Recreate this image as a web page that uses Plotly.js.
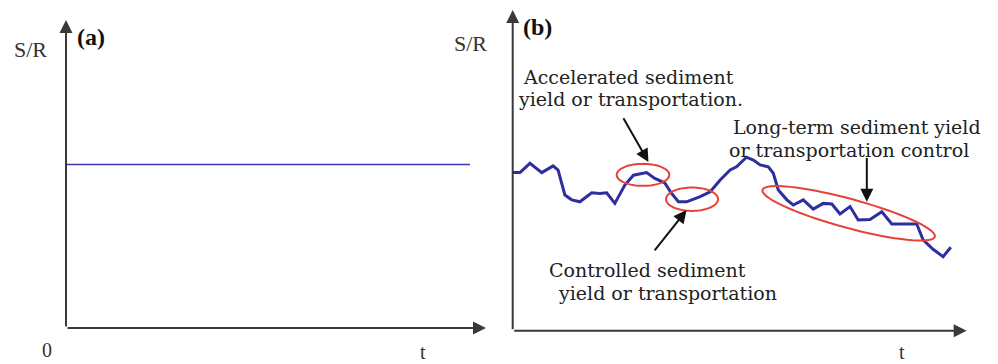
<!DOCTYPE html>
<html>
<head>
<meta charset="utf-8">
<script src="https://cdn.plot.ly/plotly-3.0.1.min.js"></script>
<style>html,body{margin:0;padding:0;background:#fff;}#chart{width:998px;height:364px;}</style>
</head>
<body>
<div id="chart"></div>
<script>
// ---- Data ----
// Panel (a): constant S/R over time
const tA = [0, 96.2];
const srA = [53.1, 53.1];

// Panel (b): fluctuating S/R over time
const tB = [0, 1.6, 3.8, 6.4, 8.9, 10.0, 11.5, 13.0, 14.8, 17.4, 19.2, 20.7, 22.5, 24.7, 26.6, 29.5,
  31.3, 33.5, 35.0, 36.5, 38.3, 41.3, 43.5, 45.7, 47.9, 49.3, 51.5, 53.0, 54.5, 56.3, 57.4, 58.5,
  60.4, 61.8, 64.0, 66.2, 68.4, 70.3, 72.1, 74.3, 76.1, 78.7, 81.3, 83.5, 86.4, 89.0, 90.4, 92.6, 94.8, 96.5];
const srB = [49.3, 49.3, 52.2, 49.3, 51.4, 50.1, 42.3, 40.8, 40.2, 43.0, 42.8, 43.0, 39.7, 45.4, 48.5, 49.3,
  47.5, 46.1, 42.8, 40.2, 40.2, 41.8, 43.3, 47.0, 50.1, 51.1, 54.1, 53.2, 51.7, 51.1, 49.1, 43.9,
  40.8, 39.2, 40.8, 37.9, 39.7, 39.5, 36.4, 38.7, 34.5, 34.7, 37.1, 33.3, 33.3, 33.3, 28.3, 25.4, 23.1, 26.0];

const axisLabelY = "S/R";
const axisLabelX = "t";
const originLabel = "0";
const panelLabels = ["(a)", "(b)"];
const noteAccel = ["Accelerated sediment", "yield or transportation."];
const noteLong = ["Long-term sediment yield", "or transportation control"];
const noteCtrl = ["Controlled sediment", "yield or transportation"];

// ---- Layout geometry ----
const W = 998, H = 364;
const domA = {x: [66 / W, 486 / W], y: [(H - 328) / H, (H - 20) / H]};
const domB = {x: [512.7 / W, 966.7 / W], y: [(H - 330.7) / H, (H - 10) / H]};
const sxB = (domB.x[1] - domB.x[0]) * W / 100; // px per unit
const syB = (domB.y[1] - domB.y[0]) * H / 100;

function ellipse(cx, cy, rxPx, ryPx, angDeg) {
  const a = angDeg * Math.PI / 180;
  let p = '';
  for (let k = 0; k <= 72; k++) {
    const t = k / 72 * 2 * Math.PI;
    const dx = rxPx * Math.cos(t) * Math.cos(a) - ryPx * Math.sin(t) * Math.sin(a);
    const dy = rxPx * Math.cos(t) * Math.sin(a) + ryPx * Math.sin(t) * Math.cos(a);
    const x = cx + dx / sxB, y = cy - dy / syB;
    p += (k === 0 ? 'M' : 'L') + x.toFixed(3) + ',' + y.toFixed(3);
  }
  return p + 'Z';
}

const serif = '"Liberation Serif", "Times New Roman", serif';
const noteFont = '"DejaVu Serif", serif';
const axisCol = '#3a3a3a';

const traces = [
  {x: tA, y: srA, xaxis: 'x', yaxis: 'y', mode: 'lines', line: {color: '#3b3bb0', width: 1.6}, cliponaxis: false, hoverinfo: 'skip'},
  {x: tB, y: srB, xaxis: 'x2', yaxis: 'y2', mode: 'lines', line: {color: '#2e2e9e', width: 3}, cliponaxis: false, hoverinfo: 'skip'}
];

function axisArrow(xr, yr, x, y, ax, ay) {
  return {xref: xr, yref: yr, axref: xr, ayref: yr, x: x, y: y, ax: ax, ay: ay, text: '',
    showarrow: true, arrowhead: 2, arrowsize: 1.3, arrowwidth: 2, arrowcolor: axisCol, standoff: 0};
}
function pointer(x, y, ax, ay) {
  return {xref: 'x2', yref: 'y2', axref: 'x2', ayref: 'y2', x: x, y: y, ax: ax, ay: ay, text: '',
    showarrow: true, arrowhead: 2, arrowsize: 1.3, arrowwidth: 2, arrowcolor: '#111', standoff: 0};
}
function label(xr, yr, x, y, text, opts) {
  return Object.assign({xref: xr, yref: yr, x: x, y: y, text: text, showarrow: false,
    xanchor: 'left', yanchor: 'middle', borderpad: 0, font: {family: noteFont, size: 19, color: '#222'}}, opts || {});
}

const annotations = [
  axisArrow('x', 'y', 0, 100, 0, 0),
  axisArrow('x', 'y', 100, 0, 0, 0),
  axisArrow('x2', 'y2', 0, 100, 0, 0),
  axisArrow('x2', 'y2', 100, 0, 0, 0),
  pointer(29.9, 52.6, 24.2, 66.7),
  pointer(38.3, 37.6, 31.0, 24.6),
  pointer(78.0, 40.2, 78.0, 54.3),
  label('paper', 'paper', 13 / W, 1 - 50 / H, axisLabelY, {font: {family: serif, size: 22, color: '#333'}}),
  label('x', 'y', 92.1, 92.5, axisLabelY, {font: {family: serif, size: 22, color: '#333'}}),
  label('x', 'y', 2.4, 94.5, '<b>' + panelLabels[0] + '</b>', {font: {family: serif, size: 24, color: '#111'}}),
  label('x2', 'y2', 2.1, 94.7, '<b>' + panelLabels[1] + '</b>', {font: {family: serif, size: 24, color: '#111'}}),
  label('paper', 'paper', 46.7 / W, 1 - 350 / H, originLabel, {xanchor: 'center', font: {family: serif, size: 20, color: '#333'}}),
  label('paper', 'paper', 423 / W, 0, axisLabelX, {xanchor: 'center', yanchor: 'bottom', font: {family: serif, size: 20, color: '#333'}}),
  label('paper', 'paper', 901.7 / W, 0, axisLabelX, {xanchor: 'center', yanchor: 'bottom', font: {family: serif, size: 20, color: '#333'}}),
  label('x2', 'y2', 2.0, 79.2, noteAccel[0]),
  label('x2', 'y2', 0.95, 72.2, noteAccel[1]),
  label('x2', 'y2', 48.2, 63.6, noteLong[0]),
  label('x2', 'y2', 47.4, 56.3, noteLong[1]),
  label('x2', 'y2', 7.8, 18.9, noteCtrl[0]),
  label('x2', 'y2', 9.7, 11.8, noteCtrl[1])
];

const red = '#e8413a';
const shapes = [
  {type: 'path', xref: 'x2', yref: 'y2', path: ellipse(28.7, 48.6, 26.3, 11, 0), line: {color: red, width: 2}},
  {type: 'path', xref: 'x2', yref: 'y2', path: ellipse(39.5, 41.0, 26, 11.7, 0), line: {color: red, width: 2}},
  {type: 'path', xref: 'x2', yref: 'y2', path: ellipse(74.0, 36.6, 89.3, 14.5, 15.2), line: {color: red, width: 2}}
];

const hidden = {showgrid: false, zeroline: false, showline: false, showticklabels: false, ticks: '', range: [0, 100], fixedrange: true};

const layout = {
  width: W, height: H,
  margin: {l: 0, r: 0, t: 0, b: 0},
  paper_bgcolor: '#fff', plot_bgcolor: 'rgba(0,0,0,0)',
  showlegend: false,
  xaxis: Object.assign({}, hidden, {domain: domA.x, anchor: 'y'}),
  yaxis: Object.assign({}, hidden, {domain: domA.y, anchor: 'x'}),
  xaxis2: Object.assign({}, hidden, {domain: domB.x, anchor: 'y2'}),
  yaxis2: Object.assign({}, hidden, {domain: domB.y, anchor: 'x2'}),
  annotations: annotations,
  shapes: shapes
};

Plotly.newPlot('chart', traces, layout, {staticPlot: true, displayModeBar: false});
</script>
</body>
</html>
